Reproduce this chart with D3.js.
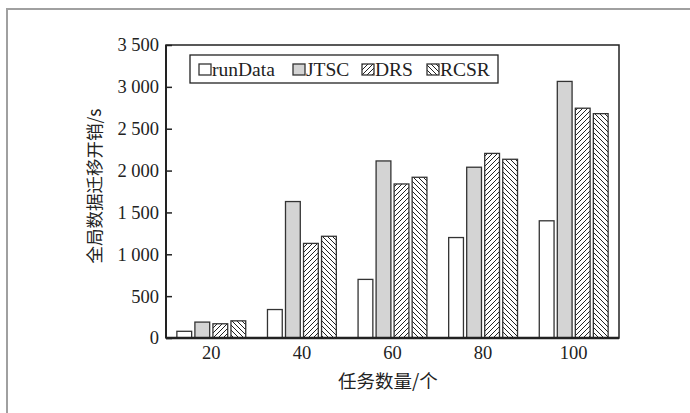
<!DOCTYPE html>
<html>
<head>
<meta charset="utf-8">
<script src="https://cdn.jsdelivr.net/npm/d3@7"></script>
<style>
  body { margin: 0; background: #fff; }
  svg text { font-family: "Liberation Serif", "Times New Roman", serif; fill: #222; }
  .cjk { font-family: "Noto Sans CJK SC", sans-serif; }
</style>
</head>
<body>
<svg id="chart" width="690" height="413"></svg>
<script>
// data
const categories = ['20', '40', '60', '80', '100'];
const seriesNames = ['runData', 'JTSC', 'DRS', 'RCSR'];
const runData = [80, 340, 700, 1200, 1400];
const jtsc = [190, 1630, 2115, 2040, 3065];
const drs = [170, 1130, 1840, 2205, 2745];
const rcsr = [205, 1215, 1920, 2135, 2680];
const yTicks = [0, 500, 1000, 1500, 2000, 2500, 3000, 3500];
const yTitle = '全局数据迁移开销/s';
const xTitle = '任务数量/个';

const allSeries = [runData, jtsc, drs, rcsr];
const fills = ['#fff', '#d4d4d4', 'url(#hatchR)', 'url(#hatchL)'];

const svg = d3.select('#chart');
const margin = {left: 166, right: 71, top: 45, bottom: 75};
const width = 690 - margin.left - margin.right;
const height = 413 - margin.top - margin.bottom;

// outer gray frame (top and left only)
svg.append('path')
    .attr('d', 'M7,413 V9 H690')
    .attr('fill', 'none')
    .attr('stroke', '#a0a0a0')
    .attr('stroke-width', 2);

const defs = svg.append('defs');
function hatch(id, d) {
    const p = defs.append('pattern')
        .attr('id', id)
        .attr('patternUnits', 'userSpaceOnUse')
        .attr('width', 5)
        .attr('height', 5);
    p.append('rect').attr('width', 5).attr('height', 5).attr('fill', '#fff');
    p.append('path')
        .attr('d', d)
        .attr('stroke', '#222')
        .attr('stroke-width', 1);
}
hatch('hatchR', 'M-1,1 L1,-1 M0,5 L5,0 M4,6 L6,4');
hatch('hatchL', 'M-1,4 L1,6 M0,0 L5,5 M4,-1 L6,1');

const g = svg.append('g')
    .attr('transform', 'translate(' + margin.left + ',' + margin.top + ')');

const x0 = d3.scaleBand()
    .domain(categories)
    .range([0, width])
    .paddingInner(0.24)
    .paddingOuter(0.12);

const x1 = d3.scaleBand()
    .domain(seriesNames)
    .range([0, x0.bandwidth()])
    .paddingInner(0.18);

const y = d3.scaleLinear()
    .domain([0, 3500])
    .range([height, 0]);

// bars
seriesNames.forEach(function(name, si) {
    g.selectAll('rect.s' + si)
        .data(allSeries[si])
        .enter().append('rect')
        .attr('class', 's' + si)
        .attr('x', (d, i) => x0(categories[i]) + x1(name))
        .attr('y', d => y(d))
        .attr('width', x1.bandwidth())
        .attr('height', d => height - y(d))
        .attr('fill', fills[si])
        .attr('stroke', '#333')
        .attr('stroke-width', 1.3);
});

// y axis, ticks pointing inward
const fmt = d => d3.format(',')(d).replace(/,/g, ' ');
const yAxis = g.append('g')
    .call(d3.axisRight(y).tickValues(yTicks).tickSize(6).tickFormat(fmt));
yAxis.select('.domain').remove();
yAxis.selectAll('line').attr('stroke', '#222').attr('stroke-width', 1.5);
yAxis.selectAll('text')
    .attr('x', -7)
    .attr('text-anchor', 'end')
    .attr('font-size', 18.5)
    .attr('font-family', '"Liberation Serif", serif');

// x axis labels
const xAxis = g.append('g')
    .attr('transform', 'translate(0,' + height + ')')
    .call(d3.axisBottom(x0).tickSize(0).tickPadding(8));
xAxis.select('.domain').remove();
xAxis.selectAll('text')
    .attr('font-size', 18.5)
    .attr('font-family', '"Liberation Serif", serif');

// plot frame
g.append('rect')
    .attr('width', width)
    .attr('height', height)
    .attr('fill', 'none')
    .attr('stroke', '#222')
    .attr('stroke-width', 1.5);
g.append('line')
    .attr('x1', 0).attr('x2', width)
    .attr('y1', height).attr('y2', height)
    .attr('stroke', '#222')
    .attr('stroke-width', 2.5);
g.append('line')
    .attr('x1', 0).attr('x2', 0)
    .attr('y1', 0).attr('y2', height)
    .attr('stroke', '#222')
    .attr('stroke-width', 2);

// axis titles
svg.append('text')
    .attr('class', 'cjk')
    .attr('transform', 'translate(101,186) rotate(-90)')
    .attr('text-anchor', 'middle')
    .attr('font-size', 17.5)
    .text(yTitle);

svg.append('text')
    .attr('class', 'cjk')
    .attr('x', 388)
    .attr('y', 388)
    .attr('text-anchor', 'middle')
    .attr('font-size', 18.5)
    .text(xTitle);

// legend
const legend = svg.append('g').attr('transform', 'translate(190,55)');
legend.append('rect')
    .attr('width', 308)
    .attr('height', 28)
    .attr('fill', '#fff')
    .attr('stroke', '#222')
    .attr('stroke-width', 1.3);
const legendX = [9, 103, 172, 237];
const legendItems = legend.selectAll('g.item')
    .data(seriesNames)
    .enter().append('g')
    .attr('class', 'item')
    .attr('transform', (d, i) => 'translate(' + legendX[i] + ',0)');
legendItems.append('rect')
    .attr('y', 9)
    .attr('width', 12)
    .attr('height', 11)
    .attr('fill', (d, i) => fills[i])
    .attr('stroke', '#333')
    .attr('stroke-width', 1.3);
legendItems.append('text')
    .attr('x', 13)
    .attr('y', 21)
    .attr('font-size', 19.5)
    .text(d => d);
</script>
</body>
</html>
